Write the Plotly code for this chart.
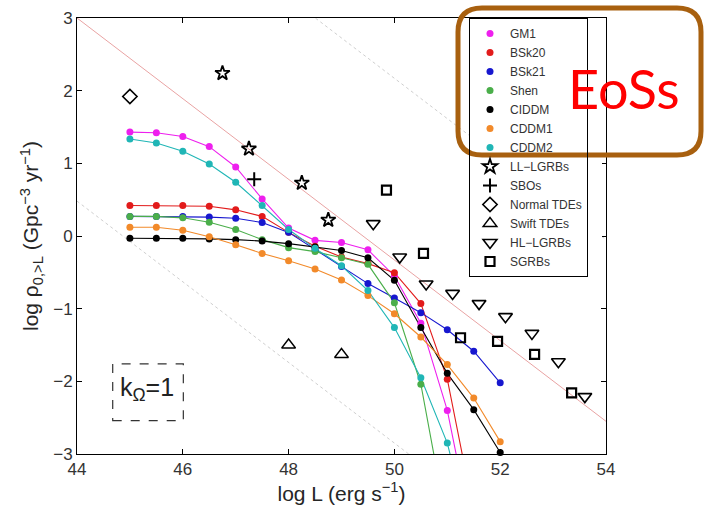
import plotly.graph_objects as go

# Luminosity grid (log L, erg/s) on which the EoS rate curves are sampled
L_GRID = [45.0, 45.5, 46.0, 46.5, 47.0, 47.5, 48.0, 48.5, 49.0, 49.5, 50.0, 50.5, 51.0, 51.5, 52.0]

# log rho_{0,>L} for each equation of state (first len(series) grid points)
gm1 = [1.43, 1.42, 1.37, 1.23, 0.95, 0.51, 0.11, -0.06, -0.09, -0.19, -0.55, -1.20, -2.40, -4.20]
bsk20 = [0.42, 0.42, 0.42, 0.41, 0.36, 0.27, 0.05, -0.14, -0.29, -0.38, -0.505, -0.93, -1.97, -3.80]
bsk21 = [0.27, 0.27, 0.27, 0.26, 0.245, 0.185, 0.05, -0.186, -0.42, -0.655, -0.853, -1.055, -1.29, -1.586, -2.02]
shen = [0.27, 0.27, 0.25, 0.19, 0.09, -0.05, -0.16, -0.215, -0.30, -0.39, -0.92, -2.04, -4.00]
ciddm = [-0.03, -0.03, -0.03, -0.04, -0.05, -0.07, -0.105, -0.15, -0.20, -0.30, -0.61, -1.26, -1.89, -2.39, -2.98]
cddm1 = [0.12, 0.12, 0.08, -0.01, -0.12, -0.24, -0.34, -0.455, -0.605, -0.82, -1.07, -1.39, -1.77, -2.23, -2.83]
cddm2 = [1.335, 1.28, 1.165, 0.99, 0.74, 0.42, 0.09, -0.17, -0.41, -0.75, -1.26, -1.95, -2.85, -4.30]

EOS_NAMES = ["GM1", "BSk20", "BSk21", "Shen", "CIDDM", "CDDM1", "CDDM2"]
EOS_VALUES = [gm1, bsk20, bsk21, shen, ciddm, cddm1, cddm2]
EOS_COLORS = ["#ee1fee", "#e21b1b", "#1717cf", "#4aae4a", "#000000", "#f28a2a", "#20b6b6"]

# Observed populations
ll_lgrb_x = [46.75, 47.25, 48.25, 48.75]
ll_lgrb_y = [2.24, 1.20, 0.73, 0.22]
sbo_x = [47.35]
sbo_y = [0.78]
tde_x = [45.0]
tde_y = [1.92]
swift_tde_x = [48.0, 49.0]
swift_tde_y = [-1.50, -1.63]
hl_lgrb_x = [49.6, 50.1, 50.6, 51.1, 51.6, 52.1, 52.6, 53.1, 53.6]
hl_lgrb_y = [0.17, -0.29, -0.66, -0.79, -0.93, -1.11, -1.34, -1.73, -2.21]
sgrb_x = [49.85, 50.55, 51.25, 51.95, 52.65, 53.35]
sgrb_y = [0.63, -0.24, -1.40, -1.45, -1.63, -2.16]

# Guide lines (end points)
guide_x = [44.0, 54.0]
guide_mid_y = [3.0, -2.55]
guide_up_y = [5.5, -0.05]
guide_low_y = [0.48, -5.07]

FONT = "Liberation Sans, Arial, Helvetica, sans-serif"

fig = go.Figure()

# guide lines
fig.add_trace(go.Scatter(x=guide_x, y=guide_up_y, mode="lines", showlegend=False,
                         line=dict(color="#cfcfcf", width=1, dash="dot"), hoverinfo="skip"))
fig.add_trace(go.Scatter(x=guide_x, y=guide_low_y, mode="lines", showlegend=False,
                         line=dict(color="#cfcfcf", width=1, dash="dot"), hoverinfo="skip"))
fig.add_trace(go.Scatter(x=guide_x, y=guide_mid_y, mode="lines", showlegend=False,
                         line=dict(color="#e9a3a3", width=1), hoverinfo="skip"))

# EoS curves: connecting lines
for name, vals, col in zip(EOS_NAMES, EOS_VALUES, EOS_COLORS):
    fig.add_trace(go.Scatter(x=L_GRID[:len(vals)], y=vals, mode="lines", showlegend=False,
                             line=dict(color=col, width=1.1), name=name))
# EoS curves: sample points (these carry the legend entries)
for name, vals, col in zip(EOS_NAMES, EOS_VALUES, EOS_COLORS):
    fig.add_trace(go.Scatter(x=L_GRID[:len(vals)], y=vals, mode="markers", name=name,
                             marker=dict(color=col, size=7),
                             cliponaxis=min(vals) < -3))

def obs(xs, ys, name, symbol, size, width=1.6):
    fig.add_trace(go.Scatter(x=xs, y=ys, mode="markers", name=name, cliponaxis=False,
                             marker=dict(symbol=symbol, size=size, color="black",
                                         line=dict(color="black", width=width))))

obs(ll_lgrb_x, ll_lgrb_y, "LL\u2212LGRBs", "star-open", 11, 1.8)
obs(sbo_x, sbo_y, "SBOs", "cross-thin-open", 10, 2)
obs(tde_x, tde_y, "Normal TDEs", "diamond-open", 11, 1.6)
obs(swift_tde_x, swift_tde_y, "Swift TDEs", "triangle-up-open", 12, 1.4)
obs(hl_lgrb_x, hl_lgrb_y, "HL\u2212LGRBs", "triangle-down-open", 12, 1.6)
obs(sgrb_x, sgrb_y, "SGRBs", "square-open", 9, 2.2)

# pixel -> paper helpers for decorations placed outside data space
ML, MR, MT, MB, W, H = 77, 100, 18, 54, 706, 508
PW, PH = W - ML - MR, H - MT - MB

def px(xp):
    return (xp - ML) / PW

def py(yp):
    return (H - MB - yp) / PH

def rounded_rect(x0, y0, x1, y1, r):
    pts = [
        ("M", [(x0 + r, y0)]), ("L", [(x1 - r, y0)]), ("Q", [(x1, y0), (x1, y0 + r)]),
        ("L", [(x1, y1 - r)]), ("Q", [(x1, y1), (x1 - r, y1)]), ("L", [(x0 + r, y1)]),
        ("Q", [(x0, y1), (x0, y1 - r)]), ("L", [(x0, y0 + r)]), ("Q", [(x0, y0), (x0 + r, y0)]),
    ]
    s = ""
    for cmd, ps in pts:
        s += cmd + " " + " ".join(f"{px(a):.5f},{py(b):.5f}" for a, b in ps) + " "
    return s + "Z"

shapes = [
    # white backing for the legend box
    dict(type="rect", xref="paper", yref="paper", x0=px(469), x1=px(602), y0=py(275), y1=py(18),
         fillcolor="white", line=dict(width=0), layer="above"),
    # EoS group frame
    dict(type="path", xref="paper", yref="paper", path=rounded_rect(458, 8, 701, 155, 24),
         line=dict(color="#a8600f", width=5), layer="above"),
    # dashed box around k_Omega label
    dict(type="rect", xref="x", yref="y", x0=44.675, x1=46.01, y0=-2.54, y1=-1.76,
         line=dict(color="#333333", width=1.2, dash="dash"), layer="above"),
]

annotations = [
    dict(xref="x", yref="y", x=45.33, y=-2.1, text="k<sub>\u03a9</sub>=1", showarrow=False,
         font=dict(family=FONT, size=25, color="#222222")),
    dict(xref="paper", yref="paper", x=px(624), y=py(88), text="EoSs", showarrow=False,
         xanchor="center", yanchor="middle",
         font=dict(family="Lato, sans-serif", size=54, color="#ff0000")),
]

axis_common = dict(showline=True, linecolor="black", linewidth=1, mirror="ticks",
                   ticks="inside", ticklen=5, tickcolor="black", showgrid=False,
                   zeroline=False, tickfont=dict(family=FONT, size=17, color="#333333"))

fig.update_layout(
    width=W, height=H, margin=dict(l=ML, r=MR, t=MT, b=MB, autoexpand=False),
    paper_bgcolor="white", plot_bgcolor="white",
    font=dict(family=FONT),
    xaxis=dict(range=[44, 54], tickvals=[44, 46, 48, 50, 52, 54],
               title=dict(text="log L (erg s<sup>\u22121</sup>)", standoff=6,
                          font=dict(family=FONT, size=21, color="#262626")),
               **axis_common),
    yaxis=dict(range=[-3, 3], tickvals=[-3, -2, -1, 0, 1, 2, 3],
               title=dict(text="log \u03c1<sub>0,&gt;L</sub> (Gpc<sup>\u22123</sup> yr<sup>\u22121</sup>)",
                          standoff=8, font=dict(family=FONT, size=21, color="#262626")),
               **axis_common),
    legend=dict(x=px(469), y=py(18), xanchor="left", yanchor="top",
                bgcolor="rgba(0,0,0,0)", bordercolor="black", borderwidth=1,
                font=dict(family=FONT, size=12, color="#333333"),
                itemwidth=30, tracegroupgap=0),
    shapes=shapes, annotations=annotations,
)

fig.write_html("out.html")
